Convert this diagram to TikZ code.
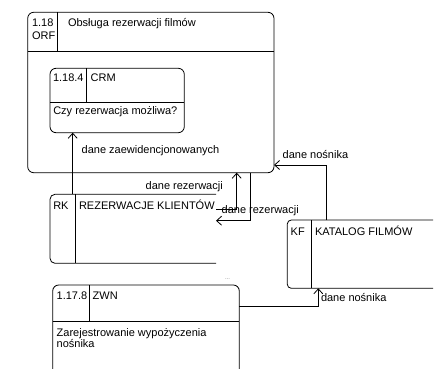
\documentclass[tikz,border=0pt]{standalone}
\usepackage{fontspec}
\setmainfont{Liberation Sans}
\usetikzlibrary{arrows.meta}
\begin{document}
\begin{tikzpicture}[x=1pt,y=-1pt,
  line width=0.8pt,
  every node/.style={font=\fontsize{11}{12}\selectfont, inner sep=0pt, outer sep=0pt},
  lbl/.style={anchor=base west},
  frame/.style={draw, rounded corners=6pt, anchor=north west},
  hold/.style={anchor=north west},
  flow/.style={-{Straight Barb[length=5pt,width=9pt]}},
]
\clip (0,0) rectangle (445,369);
% ORF
\node[frame, minimum width=246.3pt, minimum height=160.4pt] (orf) at (27.7,12.3) {};
\draw (27.7,51) -- (274,51);
\draw (57.3,12.3) -- (57.3,51);
\node[lbl] (orfnum) at (32,26.5) {1.18};
\node[lbl] (orfcode) at (32,39.3) {ORF};
\node[lbl] (orfname) at (68,26.5) {Obsługa rezerwacji filmów};
% CRM
\node[frame, minimum width=134.3pt, minimum height=64.4pt] (crm) at (50,68.3) {};
\draw (50,102.3) -- (184.3,102.3);
\draw (86.7,68.3) -- (86.7,102.3);
\node[lbl] (crmnum) at (53,81.7) {1.18.4};
\node[lbl] (crmcode) at (90.7,81.7) {CRM};
\node[lbl] (crmname) at (53.3,115) {Czy rezerwacja możliwa?};
% RK
\node[hold, minimum width=166pt, minimum height=69pt] (rk) at (50,194.3) {};
\draw[rounded corners=5pt] (rk.north east) -- (rk.north west) -- (rk.south west) -- (rk.south east);
\draw (75,0 |- rk.north) -- (75,0 |- rk.south);
\node[lbl] (rkcode) at (53.3,209.7) {RK};
\node[lbl] (rkname) at (79,209.7) {REZERWACJE KLIENTÓW};
% KF
\node[hold, minimum width=145.7pt, minimum height=68.3pt] (kf) at (287.3,220) {};
\draw[rounded corners=4pt] (kf.north east) -- (kf.north west) -- (kf.south west) -- (kf.south east);
\draw (311.7,0 |- kf.north) -- (311.7,0 |- kf.south);
\node[lbl] (kfcode) at (290.7,235.7) {KF};
\node[lbl] (kfname) at (315,235.7) {KATALOG FILMÓW};
% ZWN
\node[frame, minimum width=186.6pt, minimum height=100pt] (zwn) at (52.7,285) {};
\draw (52.7,321) -- (239.3,321);
\draw (89.3,285) -- (89.3,321);
\node[lbl] (zwnnum) at (56.7,299.7) {1.17.8};
\node[lbl] (zwncode) at (92.7,299.7) {ZWN};
\node[lbl] (zwnname1) at (56.7,336.3) {Zarejestrowanie wypożyczenia};
\node[lbl] (zwnname2) at (56.7,347.5) {nośnika};
\node[lbl, font=\fontsize{6}{6}\selectfont, text=gray] (dots) at (225,279) {...};
% flows
\draw[flow] (72.7,0 |- rk.north) -- (72.7,0 |- crm.south);
\node[lbl] (f1) at (81.7,153.7) {dane zaewidencjonowanych};
\draw[flow] (rk.east |- 0,209.3) -- (236.7,209.3) -- (236.7,0 |- orf.south);
\node[lbl] (f2) at (145.7,189.7) {dane rezerwacji};
\draw[flow] (250.7,0 |- orf.south) -- (250.7,220.7) -- (rk.east |- 0,220.7);
\node[lbl] (f3) at (221.7,213) {dane rezerwacji};
\draw[flow] (326.7,0 |- kf.north) -- (326.7,165) -- (orf.east |- 0,165);
\node[lbl] (f4) at (282.7,158) {dane nośnika};
\draw[flow] (zwn.east |- 0,306.7) -- (318.3,306.7) -- (318.3,0 |- kf.south);
\node[lbl] (f5) at (321,301.5) {dane nośnika};
\end{tikzpicture}
\end{document}
